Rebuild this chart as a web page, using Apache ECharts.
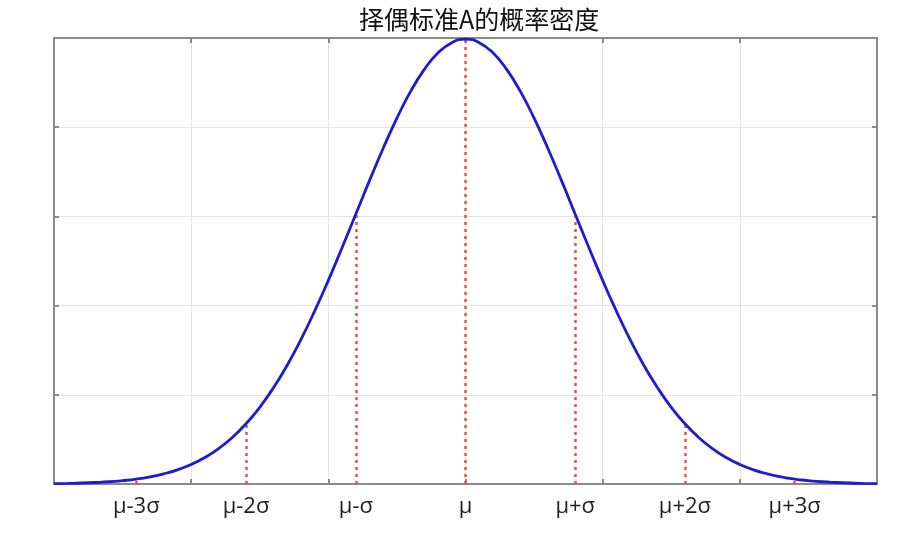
<!DOCTYPE html>
<html>
<head>
<meta charset="utf-8">
<script src="https://cdn.jsdelivr.net/npm/echarts@6/dist/echarts.min.js"></script>
<style>html,body{margin:0;padding:0;background:#fff;}#chart{width:913px;height:548px;}</style>
</head>
<body>
<div id="chart"></div>
<script>
// x positions of the curve samples (grid units; sigma = 0.8)
var curveX = [-3.0,-2.9,-2.8,-2.7,-2.6,-2.5,-2.4,-2.3,-2.2,-2.1,-2.0,-1.9,-1.8,-1.7,-1.6,-1.5,-1.4,-1.3,-1.2,-1.1,-1.0,-0.9,-0.8,-0.7,-0.6,-0.5,-0.4,-0.3,-0.2,-0.1,0.0,0.1,0.2,0.3,0.4,0.5,0.6,0.7,0.8,0.9,1.0,1.1,1.2,1.3,1.4,1.5,1.6,1.7,1.8,1.9,2.0,2.1,2.2,2.3,2.4,2.5,2.6,2.7,2.8,2.9,3.0];
var curveY = [0.0004,0.0007,0.0011,0.0017,0.0025,0.0038,0.0055,0.0080,0.0114,0.0159,0.0219,0.0297,0.0397,0.0522,0.0675,0.0860,0.1079,0.1332,0.1619,0.1938,0.2283,0.2649,0.3025,0.3401,0.3764,0.4102,0.4401,0.4648,0.4834,0.4948,0.4987,0.4948,0.4834,0.4648,0.4401,0.4102,0.3764,0.3401,0.3025,0.2649,0.2283,0.1938,0.1619,0.1332,0.1079,0.0860,0.0675,0.0522,0.0397,0.0297,0.0219,0.0159,0.0114,0.0080,0.0055,0.0038,0.0025,0.0017,0.0011,0.0007,0.0004];
// sigma marks
var markX = [-2.4,-1.6,-0.8,0,0.8,1.6,2.4];
var markY = [0.0055,0.0675,0.3025,0.4987,0.3025,0.0675,0.0055];
var markLabels = ['μ-3σ','μ-2σ','μ-σ','μ','μ+σ','μ+2σ','μ+3σ'];
var titleText = '择偶标准A的概率密度';

var curveData = curveX.map(function(x,i){return [x, curveY[i]];});
var dropLines = markX.map(function(x,i){return [{coord:[x,0]},{coord:[x,markY[i]]}];});

var frameColor = '#8a8a8a';
var chart = echarts.init(document.getElementById('chart'));
chart.setOption({
  animation:false,
  title:{text:titleText,left:354,top:2,textStyle:{fontFamily:'Noto Sans CJK SC',fontSize:25,fontWeight:'normal',color:'#111'}},
  grid:{left:54,right:36,top:38,bottom:64,containLabel:false},
  xAxis:[
    {type:'value',position:'bottom',min:-3,max:3,interval:1,
     axisLine:{show:true,onZero:false,lineStyle:{color:frameColor,width:2}},
     axisTick:{show:true,inside:true,length:5,lineStyle:{color:frameColor,width:2}},
     axisLabel:{show:false},
     splitLine:{show:true,lineStyle:{color:'#e3e3e3',width:1}}},
    {type:'value',position:'bottom',offset:0,min:-3,max:3,
     axisLine:{show:false},axisTick:{show:false},splitLine:{show:false},
     axisLabel:{show:true,customValues:markX,margin:12,fontFamily:'Open Sans',fontSize:22,color:'#222',
       formatter:function(v){var i=markX.indexOf(Math.round(v*10)/10);return i>=0?markLabels[i]:'';}}},
    {type:'value',position:'top',min:-3,max:3,interval:1,
     axisLine:{show:true,onZero:false,lineStyle:{color:frameColor,width:2}},
     axisTick:{show:true,inside:true,length:5,lineStyle:{color:frameColor,width:2}},
     axisLabel:{show:false},splitLine:{show:false}}
  ],
  yAxis:[
    {type:'value',position:'left',min:0,max:0.5,interval:0.1,
     axisLine:{show:true,onZero:false,lineStyle:{color:frameColor,width:2}},
     axisTick:{show:true,inside:true,length:5,lineStyle:{color:frameColor,width:2}},
     axisLabel:{show:false},
     splitLine:{show:true,lineStyle:{color:'#e3e3e3',width:1}}},
    {type:'value',position:'right',min:0,max:0.5,interval:0.1,
     axisLine:{show:true,onZero:false,lineStyle:{color:frameColor,width:2}},
     axisTick:{show:true,inside:true,length:5,lineStyle:{color:frameColor,width:2}},
     axisLabel:{show:false},splitLine:{show:false}}
  ],
  series:[
    {type:'line',xAxisIndex:0,yAxisIndex:0,data:curveData,smooth:true,showSymbol:false,symbol:'none',
     lineStyle:{color:'#1c1cd0',width:2.8},z:5,
     markLine:{silent:true,symbol:['none','none'],label:{show:false},
       lineStyle:{color:'#ec5048',width:2.5,type:[3,4]},data:dropLines,z:4}}
  ]
});
</script>
</body>
</html>
